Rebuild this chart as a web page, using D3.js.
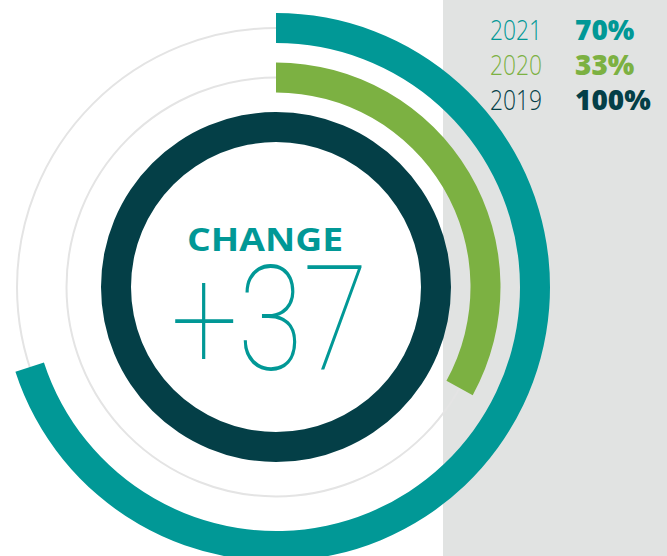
<html>
<head>
<script src="https://cdn.jsdelivr.net/npm/d3@7"></script>
<style>
  body { margin: 0; background: #fff; }
  svg { display: block; }
</style>
</head>
<body>
<svg width="667" height="556"></svg>
<script>
// values
var years = ["2021", "2020", "2019"];
var shares = [70, 33, 100];
var colors = ["#019896", "#7cb142", "#043f47"];
var changeLabel = "CHANGE";
var changeValue = "+" + (shares[0] - shares[1]);

var width = 667, height = 556;
var cx = 276, cy = 287;

var svg = d3.select("svg");

// grey panel on the right
svg.append("rect")
  .attr("x", 443).attr("y", 0)
  .attr("width", width - 443).attr("height", height)
  .attr("fill", "#e1e3e2");

var ring = d3.scaleBand()
  .domain(years.slice().reverse())   // 2019 innermost
  .range([145, 274])
  .paddingInner(0.394);

var angle = d3.scaleLinear().domain([0, 100]).range([0, 2 * Math.PI]);

var arc = d3.arc()
  .innerRadius(function(d) { return ring(d.year); })
  .outerRadius(function(d) { return ring(d.year) + ring.bandwidth(); })
  .startAngle(0)
  .endAngle(function(d) { return angle(d.value); });

var rows = years.map(function(y, i) { return {year: y, value: shares[i], color: colors[i]}; });

var g = svg.append("g").attr("transform", "translate(" + cx + "," + cy + ")");

// thin track circles
g.selectAll("circle.track")
  .data(rows.filter(function(d) { return d.value < 100; }))
  .enter().append("circle")
  .attr("class", "track")
  .attr("r", function(d) { return ring(d.year) + ring.bandwidth() / 2; })
  .attr("fill", "none")
  .attr("stroke", "#e4e4e4")
  .attr("stroke-width", 2);

g.selectAll("path.bar")
  .data(rows)
  .enter().append("path")
  .attr("class", "bar")
  .attr("d", arc)
  .attr("fill", function(d) { return d.color; });

// centre text
svg.append("text")
  .attr("x", 265).attr("y", 251)
  .attr("text-anchor", "middle")
  .attr("font-family", "'Open Sans', sans-serif")
  .attr("font-weight", 700)
  .attr("font-size", 32)
  .attr("textLength", 156)
  .attr("lengthAdjust", "spacingAndGlyphs")
  .attr("fill", colors[0])
  .text(changeLabel);

svg.append("text")
  .attr("x", 171).attr("y", 370)
  .attr("font-family", "Roboto, 'Open Sans', sans-serif")
  .attr("font-weight", 100)
  .attr("font-size", 146)
  .attr("textLength", 197)
  .attr("lengthAdjust", "spacingAndGlyphs")
  .attr("fill", colors[0])
  .text(changeValue);

// legend
var legend = svg.append("g");
var ly = d3.scaleBand().domain(years).range([17, 122]);

legend.selectAll("text.year")
  .data(rows)
  .enter().append("text")
  .attr("class", "year")
  .attr("x", 490)
  .attr("y", function(d) { return ly(d.year) + 23; })
  .attr("font-family", "'Open Sans', sans-serif")
  .attr("font-weight", 300)
  .attr("font-size", 27)
  .attr("textLength", 52)
  .attr("lengthAdjust", "spacingAndGlyphs")
  .attr("fill", function(d) { return d.color; })
  .text(function(d) { return d.year; });

legend.selectAll("text.pct")
  .data(rows)
  .enter().append("text")
  .attr("class", "pct")
  .attr("x", 575)
  .attr("y", function(d) { return ly(d.year) + 23; })
  .attr("font-family", "'Open Sans', sans-serif")
  .attr("font-weight", 800)
  .attr("font-size", 28)
  .attr("fill", function(d) { return d.color; })
  .text(function(d) { return d.value + "%"; });
</script>
</body>
</html>
